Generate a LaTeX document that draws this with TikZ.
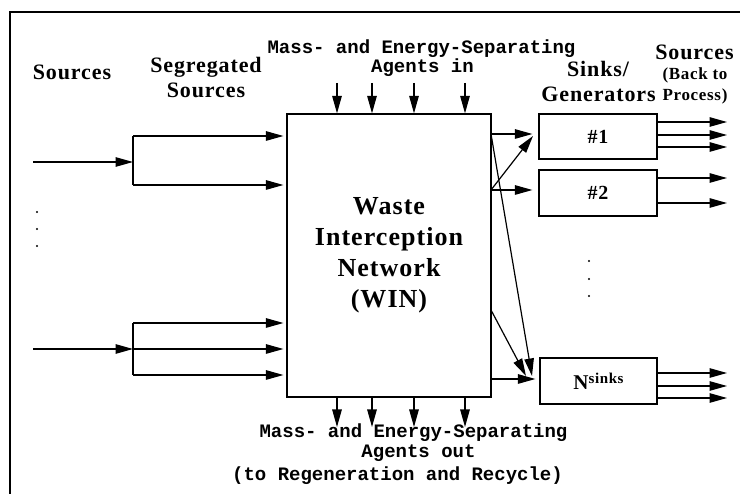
\documentclass[tikz,border=0pt]{standalone}
\usepackage{fontspec}
\setmainfont{Liberation Serif}
\newfontfamily\bsf{Liberation Serif}[LetterSpace=4]
\newfontfamily\msf{Liberation Mono}
\usetikzlibrary{arrows.meta}
\begin{document}
\begin{tikzpicture}[x=1pt,y=-1pt,
  arr/.style={line width=1.2pt,-{Triangle[length=17.5pt,width=9.5pt]}},
  ln/.style={line width=1.2pt},
  box/.style={draw,line width=1.2pt,inner sep=0pt},
  bt/.style={font=\bsf\bfseries\fontsize{22}{24}\selectfont,anchor=base,inner sep=0pt},
  st/.style={font=\bsf\bfseries\fontsize{17}{19}\selectfont,anchor=base,inner sep=0pt},
  mt/.style={font=\msf\bfseries\fontsize{19}{21}\selectfont,anchor=base,inner sep=0pt},
  dotf/.style={fill=black}
]
\useasboundingbox (0,0) rectangle (740,494);
\fill[white] (0,0) rectangle (740,494);
% frame (top and left)
\draw[line width=2pt] (740,12) -- (10,12) -- (10,494);

% main box
\node[box,minimum width=204pt,minimum height=283pt,align=center,
      font=\bsf\bfseries\fontsize{26}{31}\selectfont] (win) at (389,255.5)
      {Waste\\Interception\\Network\\(WIN)};

% sinks
\node[box,minimum width=118pt,minimum height=45pt,font=\bsf\bfseries\fontsize{20}{22}\selectfont] (s1) at (598,136.5) {\#1};
\node[box,minimum width=118pt,minimum height=46pt,font=\bsf\bfseries\fontsize{20}{22}\selectfont] (s2) at (598,193) {\#2};
\node[box,minimum width=117pt,minimum height=46pt,font=\bsf\bfseries\fontsize{21}{23}\selectfont] (sN) at (598.5,381)
  {N{\fontsize{15}{15}\selectfont\raisebox{6pt}{sinks}}};

% labels
\node[bt] (lsrc) at (72,80) {Sources};
\node[bt] (seg1) at (206,73) {Segregated};
\node[bt] (seg2) at (206,98) {Sources};
\node[bt] (snk1) at (598,77) {Sinks/};
\node[bt] (snk2) at (598.5,102) {Generators};
\node[bt] (rsrc) at (694.5,60) {Sources};
\node[st] (back1) at (695,80) {(Back to};
\node[st] (back2) at (695,101) {Process)};
\node[mt] (min1) at (421.5,54) {Mass- and Energy-Separating};
\node[mt] (min2) at (422.5,73) {Agents in};
\node[mt] (mout1) at (413.5,438) {Mass- and Energy-Separating};
\node[mt] (mout2) at (418.5,458) {Agents out};
\node[mt] (mout3) at (397.5,481) {(to Regeneration and Recycle)};

% sources, first group
\coordinate (src1) at (33,162);
\coordinate (j1) at (133,162);
\coordinate (j1a) at (133,136);
\coordinate (j1b) at (133,185);
\draw[arr] (src1) -- (j1);
\draw[ln] (j1a) -- (j1b);
\draw[arr,shorten >=3pt] (j1a) -- (j1a -| win.west);
\draw[arr,shorten >=3pt] (j1b) -- (j1b -| win.west);

% sources, second group
\coordinate (src2) at (33,349);
\coordinate (j2) at (133,349);
\coordinate (j2a) at (133,323);
\coordinate (j2b) at (133,375);
\draw[arr] (src2) -- (j2);
\draw[ln] (j2a) -- (j2b);
\draw[arr,shorten >=3pt] (j2a) -- (j2a -| win.west);
\draw[arr,shorten >=3pt] (j2) -- (j2 -| win.west);
\draw[arr,shorten >=3pt] (j2b) -- (j2b -| win.west);

% dots
\fill[dotf] (37,212) circle (1.1pt);
\fill[dotf] (37,229) circle (1.1pt);
\fill[dotf] (37,246) circle (1.1pt);
\fill[dotf] (589,261) circle (1.1pt);
\fill[dotf] (589,279) circle (1.1pt);
\fill[dotf] (589,296) circle (1.1pt);

% agents in / out
\foreach \x [count=\i] in {337,372,414,465} {
  \coordinate (ti\i) at (\x,83);
  \coordinate (to\i) at (\x,427);
  \draw[arr] (ti\i) -- (ti\i |- win.north);
  \draw[arr] (to\i |- win.south) -- (to\i);
}

% WIN outputs
\coordinate (w1) at (491,134);
\coordinate (w2) at (491,190);
\coordinate (w3) at (491,310);
\coordinate (w4) at (491,379);
\coordinate (in1) at (533,136);
\coordinate (inN1) at (532,376);
\coordinate (inN2) at (526,376);
\draw[arr,shorten >=6pt] (w1) -- (w1 -| s1.west);
\draw[arr] (w2) -- (in1);
\draw[arr,shorten >=6pt] (w2) -- (w2 -| s2.west);
\draw[arr] (w1) -- (inN1);
\draw[arr] (w3) -- (inN2);
\draw[arr,shorten >=4pt] (w4) -- (w4 -| sN.west);

% sink outputs
\foreach \y [count=\i] in {122,135,147} {
  \coordinate (r1\i) at (727,\y);
  \draw[arr] (r1\i -| s1.east) -- (r1\i);
}
\foreach \y [count=\i] in {178,203} {
  \coordinate (r2\i) at (727,\y);
  \draw[arr] (r2\i -| s2.east) -- (r2\i);
}
\foreach \y [count=\i] in {373,386,398} {
  \coordinate (rN\i) at (727,\y);
  \draw[arr] (rN\i -| sN.east) -- (rN\i);
}
\end{tikzpicture}
\end{document}
